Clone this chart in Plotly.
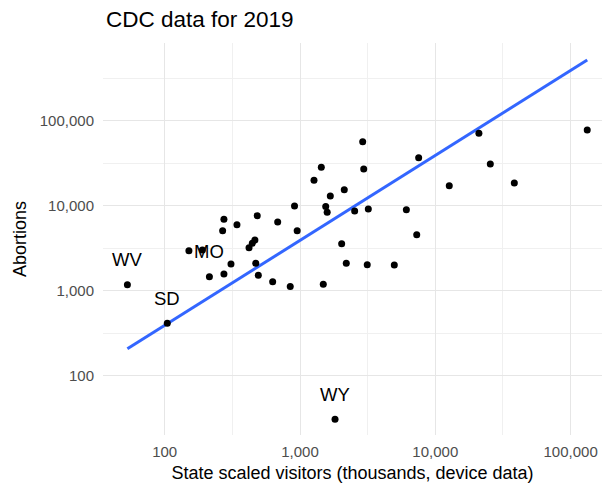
import numpy as np
import plotly.graph_objects as go

# State-level 2019 figures: scaled visitors (thousands, from device data) vs abortions (CDC)
visitors = [
    132700, 21000, 2906, 7535, 25500, 1437, 2958, 1269, 12680, 38370,
    2124, 1675, 911, 1549, 1588, 2535, 3198, 6110, 953, 7290,
    2032, 2198, 3140, 4977, 847, 1486, 274, 268, 342, 483,
    684, 464, 444, 420, 309, 214, 274, 471, 492, 628,
    151, 190, 53, 104.5, 1815,
]
abortions = [
    77800, 71100, 56600, 36700, 31000, 28300, 27000, 19900, 17200, 18500,
    15400, 13000, 9910, 9790, 8390, 8670, 9110, 8980, 5080, 4560,
    3565, 2100, 2020, 2006, 1120, 1191, 6920, 5080, 5970, 7620,
    6420, 3950, 3610, 3210, 2060, 1462, 1570, 2100, 1518, 1276,
    2955, 3010, 1178, 413, 30.7,
]
state_labels = [""] * 35 + ["MO"] + [""] * 6 + ["WV", "SD", "WY"]

tick_vals = [100, 1000, 10000, 100000]
tick_text = ["100", "1,000", "10,000", "100,000"]
minor_vals = [316.2, 3162, 31623, 316228]

FONT = "Liberation Sans, Arial, sans-serif"

# Proportional model on log10 scales (slope fixed at 1): abortions = k * visitors,
# with log10(k) the mean log ratio; drawn across the observed x range
lx = np.log10(visitors)
ly = np.log10(abortions)
log_k = np.mean(ly - lx)
fit_lx = np.linspace(lx.min(), lx.max(), 100)
fit_x = 10 ** fit_lx
fit_y = 10 ** (log_k + fit_lx)

fig = go.Figure()
fig.add_trace(go.Scatter(
    x=fit_x, y=fit_y, mode="lines",
    line=dict(color="#3366FF", width=3),
    hoverinfo="skip", showlegend=False,
))
fig.add_trace(go.Scatter(
    x=visitors, y=abortions, mode="markers",
    marker=dict(color="black", size=7),
    showlegend=False,
))

for name, vx, vy in zip(state_labels, visitors, abortions):
    if name:
        fig.add_annotation(
            x=np.log10(vx), y=np.log10(vy), text=name, showarrow=False,
            yshift=25, font=dict(family=FONT, size=18.5, color="black"),
        )

grid_major = "#E6E6E6"
grid_minor = "#F0F0F0"

fig.update_layout(
    width=602, height=486,
    margin=dict(l=103, r=0, t=43, b=51),
    paper_bgcolor="white", plot_bgcolor="white",
    font=dict(family=FONT),
    title=dict(
        text="CDC data for 2019", x=106 / 602, xref="container", xanchor="left",
        y=1 - 19.5 / 486, yref="container", yanchor="middle",
        font=dict(size=22.5, color="black", family=FONT),
    ),
    xaxis=dict(
        type="log", range=[1.544, 5.232],
        tickmode="array", tickvals=tick_vals, ticktext=tick_text,
        tickfont=dict(size=15, color="#4D4D4D"), ticklabelstandoff=6,
        showgrid=True, gridcolor=grid_major, gridwidth=1.2,
        minor=dict(tickmode="array", tickvals=minor_vals, showgrid=True,
                   gridcolor=grid_minor, gridwidth=0.8),
        zeroline=False, showline=False, ticks="",
        title=dict(text="State scaled visitors (thousands, device data)",
                   font=dict(size=18, color="black"), standoff=7),
    ),
    yaxis=dict(
        type="log", range=[1.302, 5.914],
        tickmode="array", tickvals=tick_vals, ticktext=tick_text,
        tickfont=dict(size=15, color="#4D4D4D"), ticklabelstandoff=8,
        showgrid=True, gridcolor=grid_major, gridwidth=1.2,
        minor=dict(tickmode="array", tickvals=minor_vals, showgrid=True,
                   gridcolor=grid_minor, gridwidth=0.8),
        zeroline=False, showline=False, ticks="",
        title=dict(text="Abortions", font=dict(size=18, color="black"), standoff=8),
    ),
)

fig.write_html("out.html")
